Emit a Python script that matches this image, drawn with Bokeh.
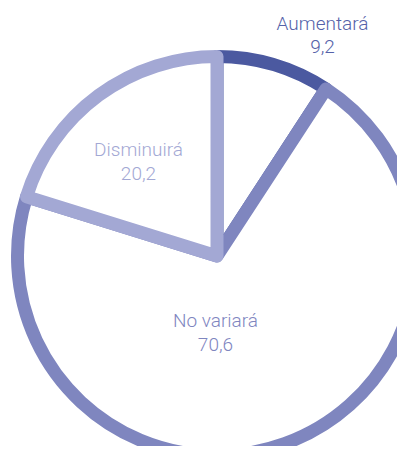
import math
from bokeh.plotting import figure
from bokeh.models import Range1d, ColumnDataSource
from bokeh.core.properties import value
from bokeh.embed import file_html
from bokeh.resources import INLINE

# data
categories = ["Aumentará", "No variará", "Disminuirá"]
values = [9.2, 70.6, 20.2]
value_labels = ["9,2", "70,6", "20,2"]
colors = ["#4b59a0", "#7f86bf", "#a3a8d4"]
text_colors = ["#5562a9", "#7f86bf", "#a3a8d4"]

# layout (image-pixel coordinates, y up)
W, H = 413, 462
FW, FH = W - 16, H - 16
cx, cy = 216.5, H - 255.5
radius = 199.5
label_x = [322, 215, 138]
label_y_name = [H - 23, H - 320, H - 149]
label_y_val = [H - 46, H - 344, H - 173]
FONT = "Roboto Light"

total = sum(values)
starts, ends = [], []
a = math.pi / 2
for v in values:
    s = a
    a = a - v / total * 2 * math.pi
    starts.append(s)
    ends.append(a)

src = ColumnDataSource(dict(
    x=[cx] * 3, y=[cy] * 3, start=starts, end=ends, color=colors,
))

p = figure(width=FW, height=FH, output_backend="svg", toolbar_location=None,
           x_range=Range1d(0, FW), y_range=Range1d(H - FH, H),
           x_axis_location=None, y_axis_location=None, min_border=0)
p.grid.visible = False
p.outline_line_color = None
p.background_fill_color = "white"
p.border_fill_color = "white"

p.wedge(x="x", y="y", radius=radius, start_angle="start", end_angle="end",
        direction="clock", fill_color="white", line_color="color", line_width=13,
        line_join="round", source=src)

tsrc = ColumnDataSource(dict(x=label_x, yn=label_y_name, yv=label_y_val,
                             name=categories, val=value_labels, c=text_colors))
p.text(x="x", y="yn", text="name", text_color="c", text_font=value(FONT),
       text_font_size="19px", text_align="center", text_baseline="alphabetic", source=tsrc)
p.text(x="x", y="yv", text="val", text_color="c", text_font=value(FONT),
       text_font_size="19px", text_align="center", text_baseline="alphabetic", source=tsrc)

open("out.html", "w").write(file_html(p, INLINE))
